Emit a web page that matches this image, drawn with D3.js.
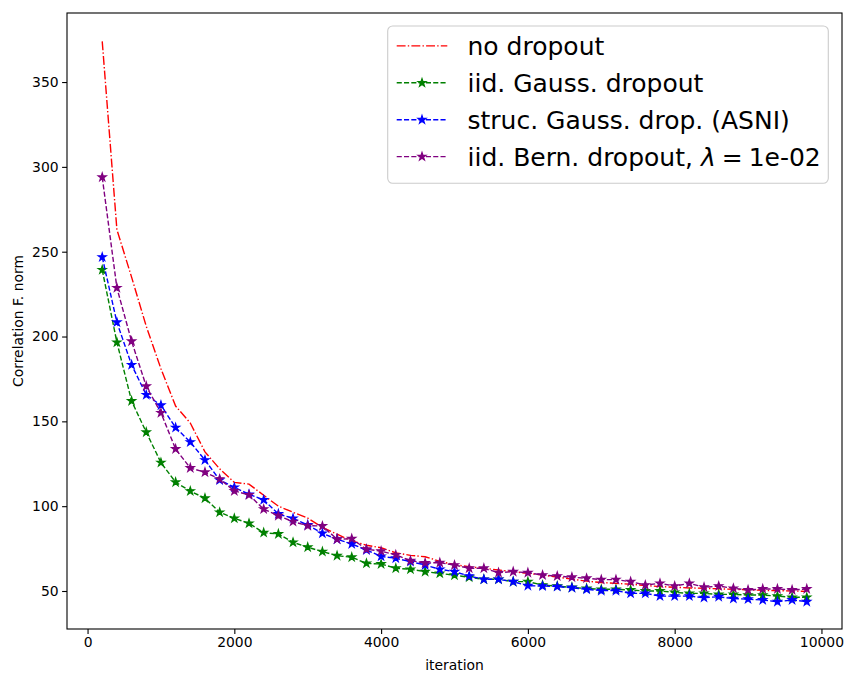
<!DOCTYPE html>
<html>
<head>
<meta charset="utf-8">
<script src="https://cdn.jsdelivr.net/npm/d3@7"></script>
<style>
  body { margin: 0; background: #fff; }
  text { font-family: "DejaVu Sans", sans-serif; fill: #000; }
</style>
</head>
<body>
<div id="chart"></div>
<script>
var svgWidth = 854;
var svgHeight = 682;

var margin = { top: 13, right: 12, bottom: 53, left: 67 };

var width = svgWidth - margin.left - margin.right;
var height = svgHeight - margin.top - margin.bottom;

// iterations (x)
var iterations = [200, 400, 600, 800, 1000, 1200, 1400, 1600, 1800, 2000,
  2200, 2400, 2600, 2800, 3000, 3200, 3400, 3600, 3800, 4000,
  4200, 4400, 4600, 4800, 5000, 5200, 5400, 5600, 5800, 6000,
  6200, 6400, 6600, 6800, 7000, 7200, 7400, 7600, 7800, 8000,
  8200, 8400, 8600, 8800, 9000, 9200, 9400, 9600, 9800];

var noDropout = [374, 263, 235, 206, 181, 159, 149, 132, 122, 114,
  113, 106.4, 100, 96.4, 93, 87.5, 83.5, 79.5, 77, 75.5,
  72.5, 71, 70.2, 67.5, 65.5, 64.3, 63.4, 62.4, 61.4, 60.4,
  59.4, 58.2, 57, 55.8, 55, 54.5, 54, 53.2, 52.6, 52.2,
  51.8, 51.6, 51.3, 51, 50.7, 50.4, 50.2, 50, 49.8];

var iidGauss = [239.3, 196.6, 162, 143.6, 125.7, 114.1, 108.9, 104.7, 96.4, 92.8,
  89.9, 84.4, 83.6, 78.7, 75.8, 73.2, 70.8, 69.9, 66.3, 65.9,
  63.4, 62.8, 61.4, 60.4, 59.3, 58.1, 56.9, 56.9, 55.5, 55.5,
  53.5, 52.9, 52.1, 51.5, 51, 51, 50.6, 50, 50, 49.2,
  48.6, 48.6, 48, 48, 47.6, 47.6, 47, 46.3, 46.3];

var strucGauss = [246.8, 208.4, 183.3, 165.6, 159.5, 146.3, 137.8, 127.2, 115.4, 111.1,
  107, 103.7, 95.4, 92.8, 88.9, 84, 80.5, 77.7, 74.2, 70.4,
  69.3, 67.3, 65.3, 62.8, 61.4, 58.8, 56.9, 56.9, 55.5, 53.1,
  52.9, 52.6, 51.9, 51, 50.2, 50.2, 48.6, 48.6, 47, 47,
  47, 46.1, 46.6, 45.5, 45.2, 44.7, 43.7, 44.7, 43.7];

var iidBern = [293.9, 228.7, 197.2, 170.7, 155, 133.7, 122.5, 120, 116, 109,
  106.6, 98.3, 94.4, 90.9, 88.5, 88.3, 80.5, 80.8, 74.6, 73.5,
  71.3, 67.9, 66.5, 66.7, 65.3, 63.4, 63.4, 60.8, 61.4, 60.8,
  59.4, 58.8, 58.1, 57.5, 56.7, 56.7, 55.5, 53.5, 54.5, 52.9,
  54.5, 52.2, 52.9, 51.6, 50.6, 51.2, 51.2, 50.6, 51.2];

var xTicks = [0, 2000, 4000, 6000, 8000, 10000];
var yTicks = [50, 100, 150, 200, 250, 300, 350];

var seriesList = [
  { label: "no dropout", values: noDropout, color: "red", dash: "8.9,2.2,1.4,2.2", marker: false },
  { label: "iid. Gauss. dropout", values: iidGauss, color: "green", dash: "5.1,2.2", marker: true },
  { label: "struc. Gauss. drop. (ASNI)", values: strucGauss, color: "blue", dash: "5.1,2.2", marker: true },
  { label: "iid. Bern. dropout, ", values: iidBern, color: "purple", dash: "5.1,2.2", marker: true, lambda: true }
];

var svg = d3.select("#chart")
  .append("svg")
  .attr("width", svgWidth)
  .attr("height", svgHeight);

svg.append("rect")
  .attr("width", svgWidth)
  .attr("height", svgHeight)
  .attr("fill", "#fff");

var chartG = svg.append("g")
  .attr("transform", `translate(${margin.left}, ${margin.top})`);

var xScale = d3.scaleLinear().domain([-280, 10280]).range([0, width]);
var yScale = d3.scaleLinear().domain([27.6, 390.7]).range([height, 0]);

// matplotlib '*' marker: 5 point star, inner radius 0.381966
function starPath(r) {
  var pts = [];
  for (var i = 0; i < 10; i++) {
    var a = Math.PI / 2 + i * Math.PI / 5;
    var rr = i % 2 === 0 ? r : r * 0.381966;
    pts.push([rr * Math.cos(a), -rr * Math.sin(a)]);
  }
  return "M" + pts.map(p => p[0].toFixed(2) + "," + p[1].toFixed(2)).join("L") + "Z";
}
var star = starPath(4.2);

var plotG = chartG.append("g");

var line = d3.line()
  .x((d, i) => xScale(iterations[i]))
  .y(d => yScale(d));

seriesList.forEach(function(s) {
  plotG.append("path")
    .datum(s.values)
    .attr("d", line)
    .attr("fill", "none")
    .attr("stroke", s.color)
    .attr("stroke-width", 1.4)
    .attr("stroke-dasharray", s.dash);

  if (s.marker) {
    plotG.append("g").selectAll("path")
      .data(s.values)
      .enter()
      .append("path")
      .attr("d", star)
      .attr("transform", (d, i) => `translate(${xScale(iterations[i])}, ${yScale(d)})`)
      .attr("fill", s.color)
      .attr("stroke", s.color)
      .attr("stroke-width", 1.2)
      .attr("stroke-linejoin", "miter");
  }
});

// axes
var bottomAxis = d3.axisBottom(xScale).tickValues(xTicks).tickSize(4.9).tickPadding(3.2).tickFormat(d3.format("d"));
var leftAxis = d3.axisLeft(yScale).tickValues(yTicks).tickSize(4.9).tickPadding(3.5).tickFormat(d3.format("d"));

var xAxis = chartG.append("g")
  .attr("transform", `translate(0, ${height})`)
  .call(bottomAxis);

var yAxis = chartG.append("g")
  .call(leftAxis);

[xAxis, yAxis].forEach(function(ax) {
  ax.select(".domain").remove();
  ax.selectAll("line").attr("stroke", "#000").attr("stroke-width", 1.1);
  ax.selectAll("text")
    .style("font-family", "DejaVu Sans")
    .style("font-size", "13.9px")
    .attr("fill", "#000");
});

// frame
chartG.append("rect")
  .attr("width", width)
  .attr("height", height)
  .attr("fill", "none")
  .attr("stroke", "#000")
  .attr("stroke-width", 1.1);

// axis labels
svg.append("text")
  .attr("x", margin.left + width / 2)
  .attr("y", 670)
  .attr("text-anchor", "middle")
  .style("font-size", "13.9px")
  .text("iteration");

svg.append("text")
  .attr("transform", `translate(23, ${margin.top + height / 2}) rotate(-90)`)
  .attr("text-anchor", "middle")
  .style("font-size", "13.9px")
  .text("Correlation F. norm");

// legend
var legendG = svg.append("g");

legendG.append("rect")
  .attr("x", 387.7)
  .attr("y", 26)
  .attr("width", 440.6)
  .attr("height", 157.3)
  .attr("rx", 5)
  .attr("fill", "#fff")
  .attr("fill-opacity", 0.8)
  .attr("stroke", "#ccc")
  .attr("stroke-width", 1.1);

seriesList.forEach(function(s, i) {
  var cy = 45.9 + i * 36.9;
  legendG.append("line")
    .attr("x1", 396.7)
    .attr("x2", 447.3)
    .attr("y1", cy)
    .attr("y2", cy)
    .attr("stroke", s.color)
    .attr("stroke-width", 1.4)
    .attr("stroke-dasharray", s.dash);
  if (s.marker) {
    legendG.append("path")
      .attr("d", star)
      .attr("transform", `translate(422, ${cy})`)
      .attr("fill", s.color)
      .attr("stroke", s.color)
      .attr("stroke-width", 1.2);
  }
  var t = legendG.append("text")
    .attr("x", 467.5)
    .attr("y", cy + 9.5)
    .style("font-size", "25px")
    .text(s.label);
  if (s.lambda) {
    t.append("tspan").style("font-style", "italic").text("λ");
    t.append("tspan").attr("dx", 6).text("=");
    t.append("tspan").attr("dx", 6).text("1e-02");
  }
});
</script>
</body>
</html>
